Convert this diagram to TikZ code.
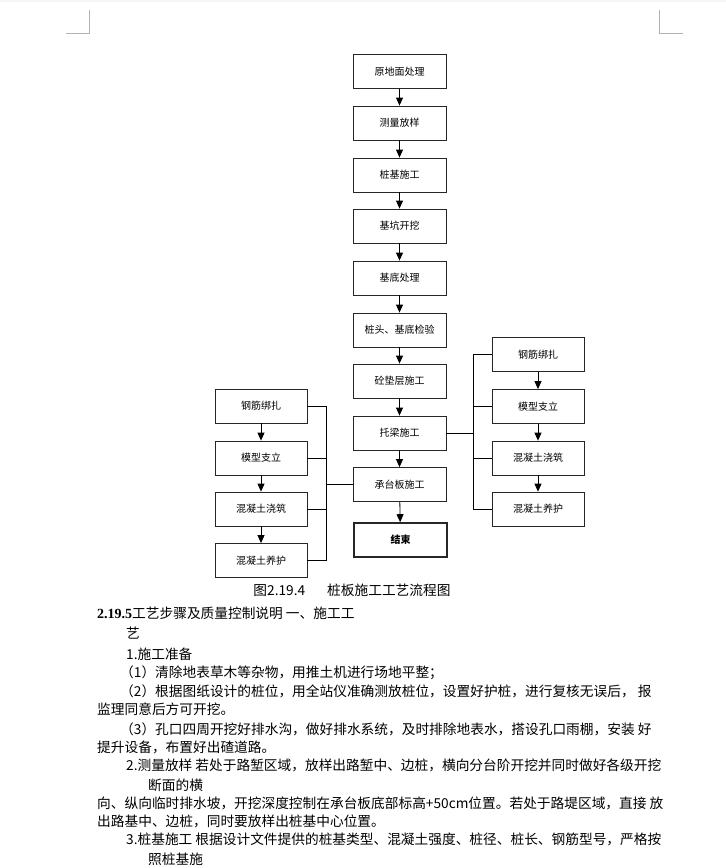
\documentclass[tikz,border=0pt]{standalone}
\usepackage{fontspec}
\setmainfont{Noto Sans CJK SC}
\newfontfamily\serifb{Liberation Serif}
\usetikzlibrary{arrows.meta}
\begin{document}
\begin{tikzpicture}[x=1pt,y=-1pt,
  box/.style={draw=black!85,line width=0.8pt,minimum width=93pt,minimum height=34pt,inner sep=0pt,font=\fontsize{10}{12}\selectfont},
  endbox/.style={box,line width=1.6pt,font=\fontsize{10}{12}\selectfont\bfseries},
  flow/.style={line width=0.8pt,-{Triangle[width=7pt,length=8pt]}},
  link/.style={line width=0.8pt},
  body/.style={anchor=west,inner sep=0pt,font=\fontsize{13.7}{16}\selectfont},
  corner/.style={draw=black!30,line width=1pt}]
\useasboundingbox (0,0) rectangle (726,868);
\fill[black!4] (0,0) rectangle (726,2);
% corner marks
\draw[corner] (66,33) -- (89,33) -- (89,10);
\draw[corner] (659,10) -- (659,33) -- (683,33);
% main column
\node[box] (m1) at (399.5,71.5) {原地面处理};
\node[box] (m2) at (399.5,123) {测量放样};
\node[box] (m3) at (399.5,175) {桩基施工};
\node[box] (m4) at (399.5,226) {基坑开挖};
\node[box] (m5) at (399.5,278) {基底处理};
\node[box] (m6) at (399.5,330) {桩头、基底检验};
\node[box] (m7) at (399.5,381) {砼垫层施工};
\node[box] (m8) at (399.5,433) {托梁施工};
\node[box] (m9) at (399.5,484.5) {承台板施工};
\node[endbox] (end) at (400.5,540) {结束};
\foreach \a/\b in {m1/m2,m2/m3,m3/m4,m4/m5,m5/m6,m6/m7,m7/m8,m8/m9,m9/end}
  \draw[flow] (\a) -- (\b);
% left column
\node[box,minimum width=92pt] (l1) at (261,406) {钢筋绑扎};
\node[box,minimum width=92pt] (l2) at (261,458) {模型支立};
\node[box,minimum width=92pt] (l3) at (261,509) {混凝土浇筑};
\node[box,minimum width=92pt] (l4) at (261,560.5) {混凝土养护};
\foreach \a/\b in {l1/l2,l2/l3,l3/l4}
  \draw[flow] (\a) -- (\b);
\coordinate (lbx) at (326,0);
\foreach \a in {l1,l2,l3,l4}
  \draw[link] (\a.east) -- (\a.east -| lbx);
\draw[link] (l1.east -| lbx) -- (l4.east -| lbx);
\draw[link] (m9.west) -- (m9.west -| lbx);
% right column
\node[box,minimum width=92pt] (r1) at (538,354.5) {钢筋绑扎};
\node[box,minimum width=92pt] (r2) at (538,406.5) {模型支立};
\node[box,minimum width=92pt] (r3) at (538,458) {混凝土浇筑};
\node[box,minimum width=92pt] (r4) at (538,509) {混凝土养护};
\foreach \a/\b in {r1/r2,r2/r3,r3/r4}
  \draw[flow] (\a) -- (\b);
\coordinate (rbx) at (473,0);
\foreach \a in {r1,r2,r3,r4}
  \draw[link] (\a.west) -- (\a.west -| rbx);
\draw[link] (r1.west -| rbx) -- (r4.west -| rbx);
\draw[link] (m8.east) -- (m8.east -| rbx);
% caption
\node[body,anchor=center] (cap) at (352,590) {图2.19.4\hspace{22pt}桩板施工工艺流程图};
% body text
\node[body] (t1) at (97,613) {{\serifb\bfseries\fontsize{14}{16}\selectfont 2.19.5}工艺步骤及质量控制说明 一、施工工};
\node[body] (t2) at (126,633) {艺};
\node[body] (t3) at (126,654) {1.施工准备};
\node[body] (t4) at (120,673) {（1）清除地表草木等杂物，用推土机进行场地平整；};
\node[body] (t5) at (120,691) {（2）根据图纸设计的桩位，用全站仪准确测放桩位，设置好护桩，进行复核无误后， 报};
\node[body] (t6) at (97,709) {监理同意后方可开挖。};
\node[body] (t7) at (120,729) {（3）孔口四周开挖好排水沟，做好排水系统，及时排除地表水，搭设孔口雨棚，安装 好};
\node[body] (t8) at (97,747) {提升设备，布置好出碴道路。};
\node[body] (t9) at (126,765) {2.测量放样 若处于路堑区域，放样出路堑中、边桩，横向分台阶开挖并同时做好各级开挖};
\node[body] (t10) at (148,785) {断面的横};
\node[body] (t11) at (97,803) {向、纵向临时排水坡，开挖深度控制在承台板底部标高+50cm位置。若处于路堤区域，直接 放};
\node[body] (t12) at (97,821) {出路基中、边桩，同时要放样出桩基中心位置。};
\node[body] (t13) at (126,839) {3.桩基施工 根据设计文件提供的桩基类型、混凝土强度、桩径、桩长、钢筋型号，严格按};
\node[body] (t14) at (148,859) {照桩基施};
\begin{scope}
\clip (0,0) rectangle (726,868);
\node[body] (t15) at (97,877) {工工艺要求，组织桩基工程施工};
\end{scope}
\end{tikzpicture}
\end{document}
